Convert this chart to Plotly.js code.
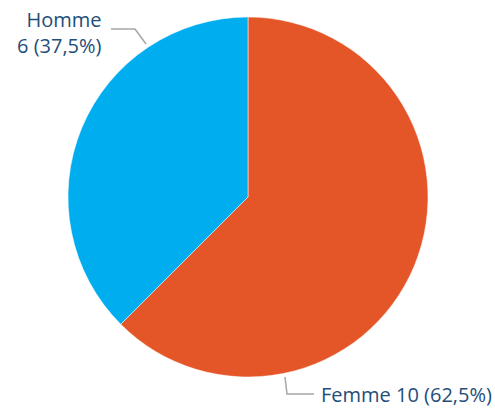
<!DOCTYPE html>
<html><head><meta charset="utf-8">
<script src="https://cdn.plot.ly/plotly-3.0.1.min.js"></script>
<style>html,body{margin:0;padding:0;background:#fff}</style>
</head><body>
<div id="chart" style="width:495px;height:411px"></div>
<script>
const categories = ["Femme", "Homme"];
const values = [10, 6];
const colors = ["#E45527", "#00ADEF"];
const W = 495, H = 411;
const total = values.reduce((a,b)=>a+b,0);
function pct(v){ return (v/total*100).toFixed(1).replace('.', ',') + '%'; }
const px = x => x / W, py = y => 1 - y / H;
const textColor = "#1E4E79";
const lineColor = "#A6A6A6";
const data = [{
  type: "pie",
  labels: categories,
  values: values,
  marker: {colors: colors, line: {color: "#ffffff", width: 0.5}},
  sort: false,
  direction: "clockwise",
  rotation: 0,
  textinfo: "none",
  hoverinfo: "label+value+percent",
  domain: {x: [px(68), px(428)], y: [py(377), py(17)]},
  showlegend: false
}];
const layout = {
  width: W, height: H,
  margin: {l: 0, r: 0, t: 0, b: 0},
  paper_bgcolor: "#ffffff",
  font: {family: "Open Sans, Noto Sans, sans-serif", color: textColor},
  annotations: [
    {xref: "paper", yref: "paper", x: px(104), y: py(32), xanchor: "right", yanchor: "middle",
     align: "right", showarrow: false, font: {size: 20, color: textColor},
     text: categories[1] + "<br>" + values[1] + " (" + pct(values[1]) + ")"},
    {xref: "paper", yref: "paper", x: px(319), y: py(394), xanchor: "left", yanchor: "middle",
     align: "left", showarrow: false, font: {size: 20, color: textColor},
     text: categories[0] + " " + values[0] + " (" + pct(values[0]) + ")"}
  ],
  shapes: [
    {type: "path", xref: "paper", yref: "paper",
     path: `M ${px(111)} ${py(29)} L ${px(135)} ${py(29)} L ${px(146)} ${py(44)}`,
     line: {color: lineColor, width: 1.5}},
    {type: "path", xref: "paper", yref: "paper",
     path: `M ${px(285)} ${py(377)} L ${px(287)} ${py(394)} L ${px(314)} ${py(394)}`,
     line: {color: lineColor, width: 1.5}}
  ]
};
Plotly.newPlot("chart", data, layout, {displayModeBar: false, staticPlot: true});
</script>
</body></html>
